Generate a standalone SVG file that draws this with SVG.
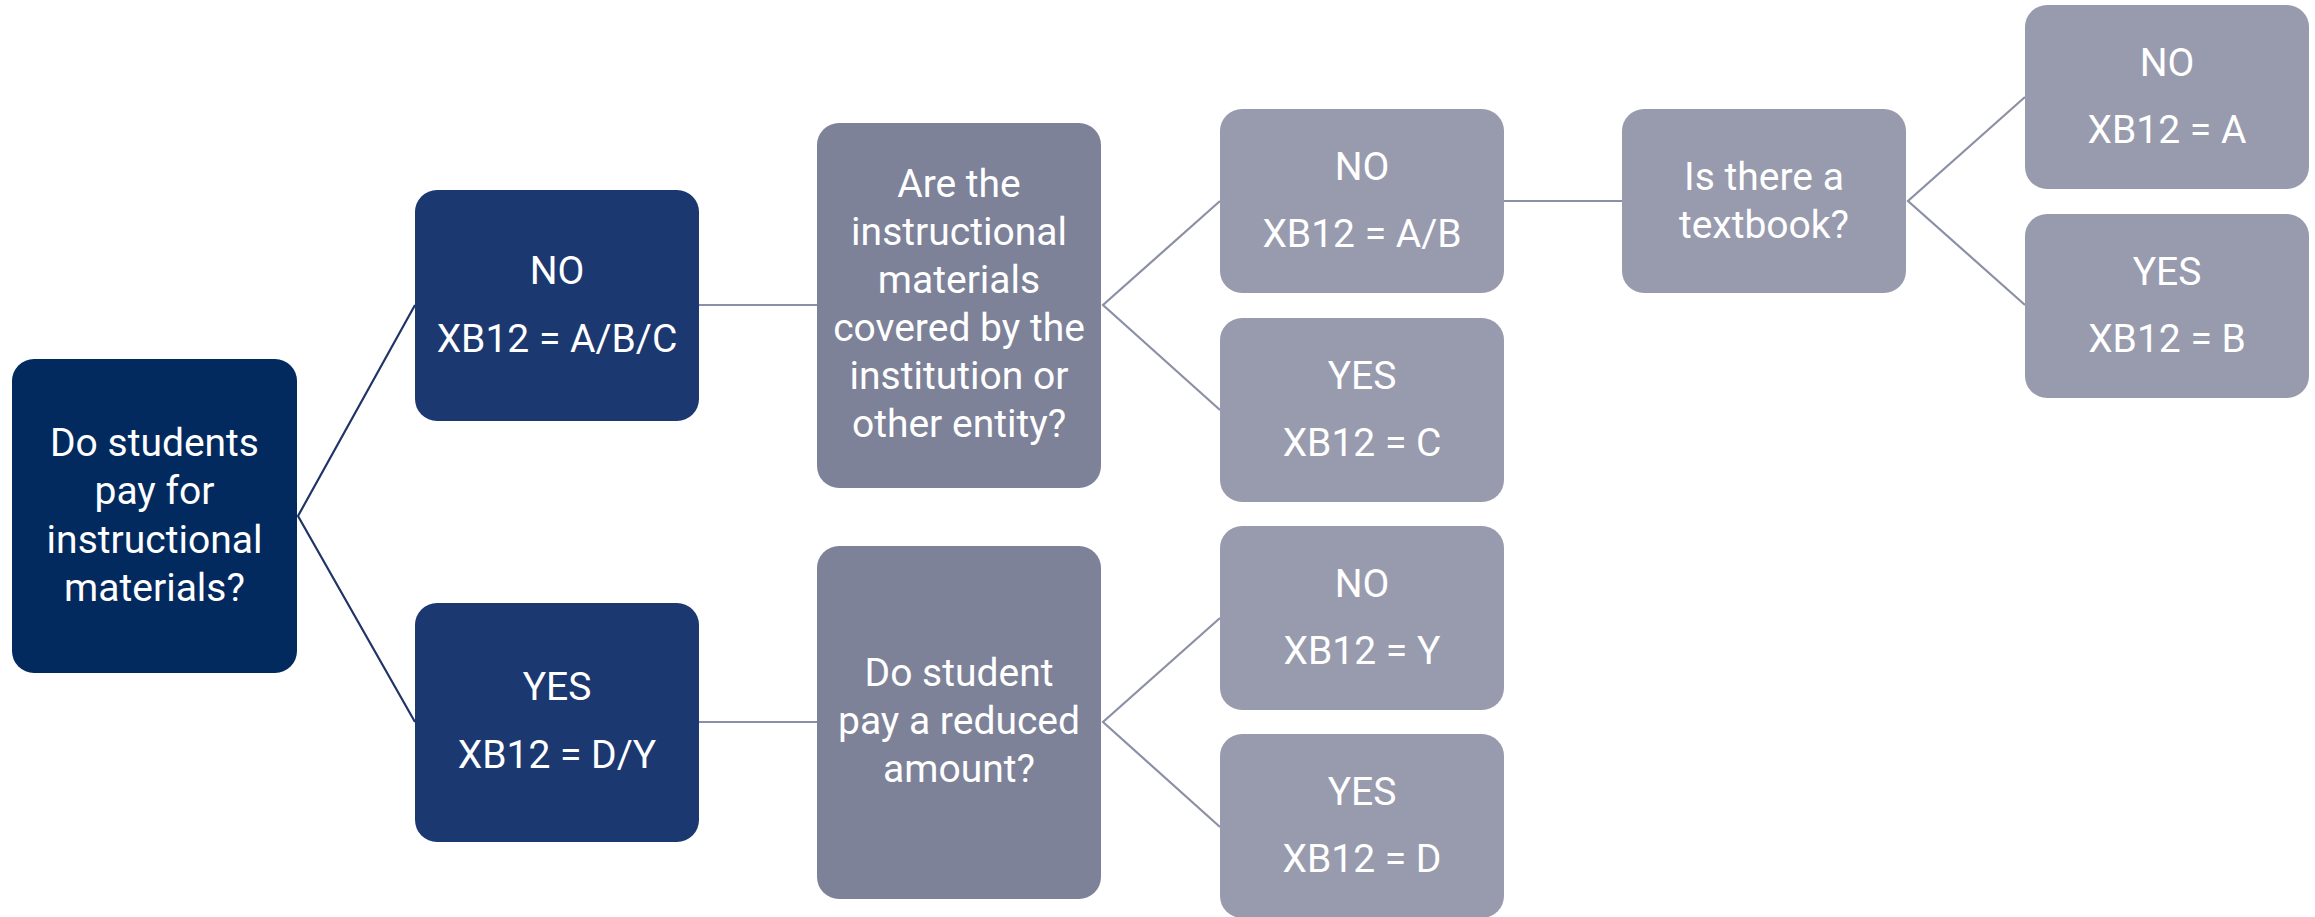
<svg xmlns="http://www.w3.org/2000/svg" width="2315" height="917" viewBox="0 0 2315 917">
<style>
.root{fill:#022a5f}
.l2{fill:#1c3870}
.q{fill:#7d8299}
.leaf{fill:#989bae}
text{font-family:Roboto,"Liberation Sans",sans-serif;font-size:39px;fill:#ffffff;text-anchor:middle}
.cn{fill:none;stroke:#8c90a7;stroke-width:2.2}
.cd{fill:none;stroke:#1f3467;stroke-width:2.2}
</style>
<rect width="2315" height="917" fill="#ffffff"/>
<g id="connectors">
<polyline class="cd" points="415,305 298,516 415,722"/>
<line class="cn" x1="699" y1="305" x2="817" y2="305"/>
<line class="cn" x1="699" y1="722" x2="817" y2="722"/>
<polyline class="cn" points="1220,201 1103,305 1220,410"/>
<polyline class="cn" points="1220,618 1103,722 1220,827"/>
<line class="cn" x1="1504" y1="201" x2="1622" y2="201"/>
<polyline class="cn" points="2025,97 1908,201 2025,305"/>
</g>
<g id="n-root">
<rect class="root" x="12" y="359" width="285" height="314" rx="22"/>
<text x="154.5" y="456">Do students</text>
<text x="154.5" y="504">pay for</text>
<text x="154.5" y="553">instructional</text>
<text x="154.5" y="601">materials?</text>
</g>
<g id="n-no1">
<rect class="l2" x="415" y="190" width="284" height="231" rx="22"/>
<text x="557" y="284">NO</text>
<text x="557" y="352">XB12 = A/B/C</text>
</g>
<g id="n-yes1">
<rect class="l2" x="415" y="603" width="284" height="239" rx="22"/>
<text x="557" y="700">YES</text>
<text x="557" y="768">XB12 = D/Y</text>
</g>
<g id="n-q2">
<rect class="q" x="817" y="123" width="284" height="365" rx="22"/>
<text x="959" y="197">Are the</text>
<text x="959" y="245">instructional</text>
<text x="959" y="293">materials</text>
<text x="959" y="341">covered by the</text>
<text x="959" y="389">institution or</text>
<text x="959" y="437">other entity?</text>
</g>
<g id="n-q3">
<rect class="q" x="817" y="546" width="284" height="353" rx="22"/>
<text x="959" y="686">Do student</text>
<text x="959" y="734">pay a reduced</text>
<text x="959" y="782">amount?</text>
</g>
<g id="n-noab">
<rect class="leaf" x="1220" y="109" width="284" height="184" rx="22"/>
<text x="1362" y="180">NO</text>
<text x="1362" y="247">XB12 = A/B</text>
</g>
<g id="n-yesc">
<rect class="leaf" x="1220" y="318" width="284" height="184" rx="22"/>
<text x="1362" y="389">YES</text>
<text x="1362" y="456">XB12 = C</text>
</g>
<g id="n-noy">
<rect class="leaf" x="1220" y="526" width="284" height="184" rx="22"/>
<text x="1362" y="597">NO</text>
<text x="1362" y="664">XB12 = Y</text>
</g>
<g id="n-yesd">
<rect class="leaf" x="1220" y="734" width="284" height="184" rx="22"/>
<text x="1362" y="805">YES</text>
<text x="1362" y="872">XB12 = D</text>
</g>
<g id="n-q4">
<rect class="leaf" x="1622" y="109" width="284" height="184" rx="22"/>
<text x="1764" y="190">Is there a</text>
<text x="1764" y="238">textbook?</text>
</g>
<g id="n-noa">
<rect class="leaf" x="2025" y="5" width="284" height="184" rx="22"/>
<text x="2167" y="76">NO</text>
<text x="2167" y="143">XB12 = A</text>
</g>
<g id="n-yesb">
<rect class="leaf" x="2025" y="214" width="284" height="184" rx="22"/>
<text x="2167" y="285">YES</text>
<text x="2167" y="352">XB12 = B</text>
</g>
</svg>
